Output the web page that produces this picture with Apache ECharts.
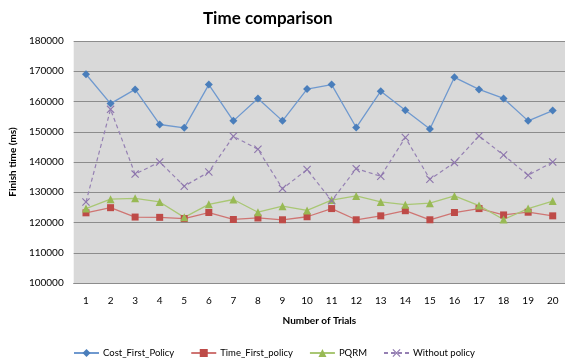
<!DOCTYPE html>
<html>
<head>
<meta charset="utf-8">
<script src="https://cdn.jsdelivr.net/npm/echarts@6/dist/echarts.min.js"></script>
<style>
  html, body { margin: 0; padding: 0; background: #fff; }
  #chart { width: 565px; height: 360px; }
</style>
</head>
<body>
<div id="chart"></div>
<script>
// Trial numbers along the horizontal axis
const trials = ['1','2','3','4','5','6','7','8','9','10','11','12','13','14','15','16','17','18','19','20'];

// Finish time (ms) per trial for each policy
const costFirstPolicy = [169000, 159300, 164000, 152400, 151300, 165600, 153600, 161000, 153600, 164100,
                         165600, 151400, 163400, 157100, 150900, 168000, 164000, 161000, 153600, 157000];
const timeFirstPolicy = [123200, 124900, 121800, 121700, 121300, 123300, 121000, 121500, 120900, 121900,
                         124600, 120900, 122200, 123900, 120900, 123300, 124600, 122500, 123400, 122200];
const pqrm            = [124600, 127700, 128000, 126800, 121700, 126000, 127600, 123400, 125400, 124000,
                         127400, 128800, 126800, 125900, 126400, 128800, 125600, 121000, 124600, 127100];
const withoutPolicy   = [126800, 157400, 136000, 140000, 132000, 136700, 148500, 144200, 131200, 137500,
                         127200, 137800, 135300, 148100, 134300, 139800, 148600, 142300, 135600, 140000];

const seriesNames = ['Cost_First_Policy', 'Time_First_policy', 'PQRM', 'Without policy'];

// Y axis range
const yMin = 100000, yMax = 180000, yStep = 10000;

const FONT = 'Lato, "Open Sans", sans-serif';
const crossPath = 'path://M0,1L1,0L5,4L9,0L10,1L6,5L10,9L9,10L5,6L1,10L0,9L4,5Z';

const chart = echarts.init(document.getElementById('chart'));
chart.setOption({
  animation: false,
  backgroundColor: '#ffffff',
  textStyle: { fontFamily: FONT },
  title: {
    text: 'Time comparison',
    left: 198,
    top: 5,
    textStyle: { fontFamily: FONT, fontSize: 17, fontWeight: 'bold', color: '#000' }
  },
  grid: {
    left: 64, top: 41, width: 505, bottom: 77,
    show: true, backgroundColor: '#d9d9d9', borderWidth: 0
  },
  legend: {
    left: 68, top: 343,
    itemWidth: 25, itemHeight: 10, itemGap: 16,
    textStyle: { fontFamily: FONT, fontSize: 9.5, color: '#000', padding: [0, 0, 0, -1] },
    data: seriesNames
  },
  xAxis: {
    type: 'category',
    data: trials,
    boundaryGap: true,
    name: 'Number of Trials',
    nameLocation: 'middle',
    nameGap: 33,
    nameTextStyle: { fontFamily: FONT, fontSize: 10, fontWeight: 'bold', color: '#000' },
    axisLine: { lineStyle: { color: '#8c8c8c', width: 1 } },
    axisTick: { show: false },
    axisLabel: { fontFamily: FONT, fontSize: 10, color: '#000', margin: 13 }
  },
  yAxis: {
    type: 'value',
    min: yMin, max: yMax, interval: yStep,
    name: 'Finish time (ms)',
    nameLocation: 'middle',
    nameGap: 55,
    nameTextStyle: { fontFamily: FONT, fontSize: 10, fontWeight: 'bold', color: '#000' },
    axisLine: { show: false },
    axisTick: { show: false },
    axisLabel: { fontFamily: FONT, fontSize: 10, color: '#000', margin: 10, formatter: v => String(v) },
    splitLine: { lineStyle: { color: '#8c8c8c', width: 1 } }
  },
  series: [
    {
      name: seriesNames[0], type: 'line', data: costFirstPolicy,
      symbol: 'diamond', symbolSize: 8,
      itemStyle: { color: '#4a7ebb' },
      lineStyle: { color: '#6f99cf', width: 1.3 }
    },
    {
      name: seriesNames[1], type: 'line', data: timeFirstPolicy,
      symbol: 'rect', symbolSize: 7,
      itemStyle: { color: '#be4b48' },
      lineStyle: { color: '#cf7573', width: 1.3 }
    },
    {
      name: seriesNames[2], type: 'line', data: pqrm,
      symbol: 'triangle', symbolSize: 8,
      itemStyle: { color: '#98b954' },
      lineStyle: { color: '#a9c774', width: 1.3 }
    },
    {
      name: seriesNames[3], type: 'line', data: withoutPolicy,
      symbol: crossPath, symbolSize: 8,
      itemStyle: { color: '#8e76ad' },
      lineStyle: { color: '#9580b3', width: 1.2, type: [4, 3] }
    }
  ]
});
</script>
</body>
</html>
